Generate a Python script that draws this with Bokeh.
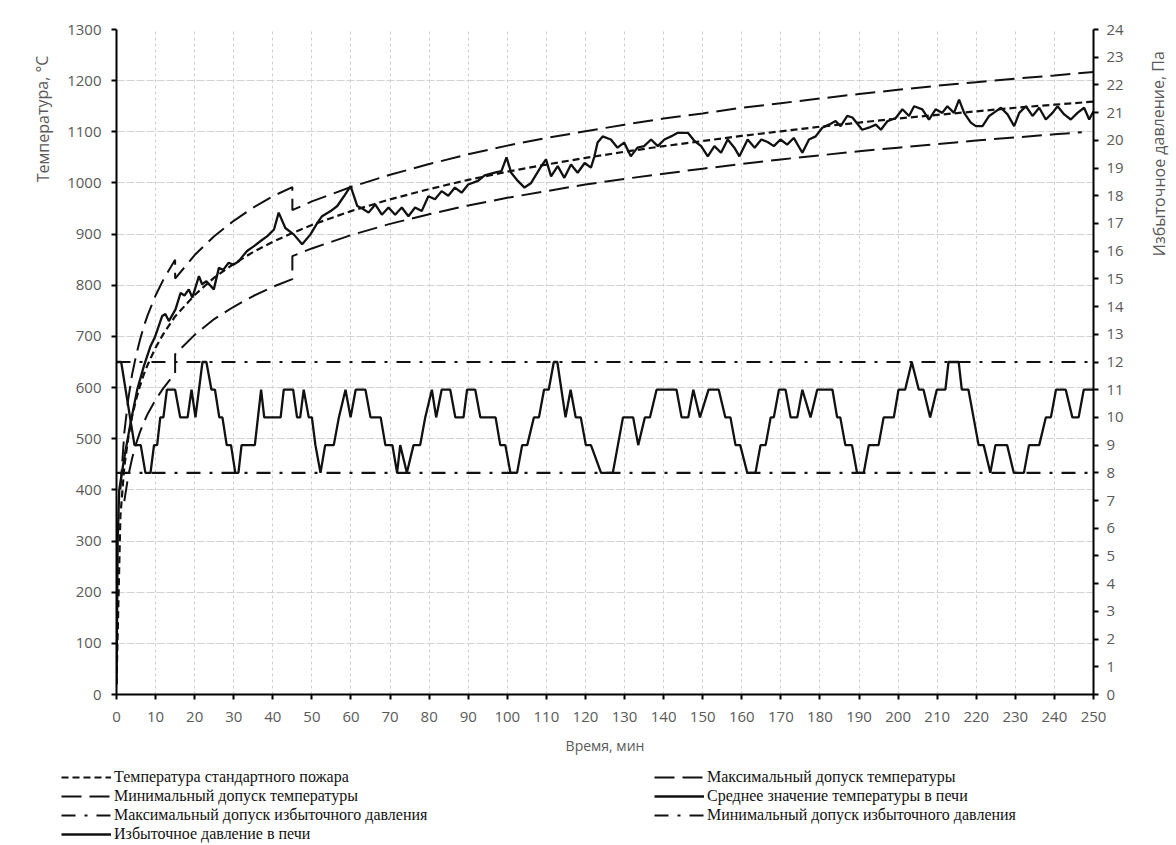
from bokeh.plotting import figure
from bokeh.layouts import column, row
from bokeh.models import Range1d, LinearAxis, Legend, LegendItem, Label, FixedTicker
from bokeh.embed import file_html
from bokeh.resources import INLINE

# ---------------- data ----------------
x_ticks = list(range(0, 251, 10))
temp_ticks = list(range(0, 1301, 100))
pres_ticks = list(range(0, 25))

# standard fire temperature
std_t = [0, 1, 2, 3, 4, 5, 6, 7, 8, 10, 12, 15, 20, 25, 30, 35, 40, 45, 50, 60, 70, 80, 90,
         100, 110, 120, 130, 140, 150, 160, 170, 180, 190, 200, 210, 220, 230, 240, 250]
std_T = [20, 349, 445, 502, 544, 576, 603, 626, 645, 678, 705, 739, 781, 815, 842, 865, 885, 902, 918,
         945, 968, 988, 1006, 1022, 1036, 1049, 1061, 1072, 1082, 1092, 1101, 1110, 1118, 1126, 1133,
         1140, 1147, 1153, 1159]

# maximum temperature tolerance
max_t = [1, 2, 3, 4, 5, 6, 7, 8, 10, 12, 15, 15, 20, 25, 30, 35, 40, 45, 45, 50, 60, 70, 80, 90,
         100, 110, 120, 130, 140, 150, 160, 170, 180, 190, 200, 210, 220, 230, 240, 250]
max_T = [401, 512, 577, 626, 662, 693, 720, 742, 780, 811, 850, 813, 859, 896, 926, 952, 974, 992,
         947, 964, 992, 1016, 1037, 1056, 1073, 1088, 1101, 1114, 1126, 1136, 1147, 1156, 1165, 1174,
         1182, 1190, 1197, 1204, 1210, 1217]

# minimum temperature tolerance
min_t = [2, 3, 4, 5, 6, 7, 8, 10, 12, 15, 15, 20, 25, 30, 35, 40, 45, 45, 50, 60, 70, 80, 90,
         100, 110, 120, 130, 140, 150, 160, 170, 180, 190, 200, 210, 220, 230, 240, 247]
min_T = [378, 427, 462, 490, 513, 532, 549, 576, 599, 628, 665, 703, 734, 758, 779, 797, 812, 857,
         872, 898, 920, 939, 956, 971, 984, 997, 1008, 1018, 1028, 1037, 1046, 1054, 1062, 1069,
         1076, 1083, 1089, 1095, 1099]

# mean furnace temperature
avg_t = [0, 0.3, 0.7, 1.9, 3.6, 5.3, 7, 8.7, 9.9, 11.7, 12.5, 13.4, 15.1, 16.4, 17.4, 18.5, 19.4,
         21.1, 21.9, 23, 24.9, 26.2, 27.3, 28.7, 29.9, 31.3, 32.2, 33.4, 35.1, 36.8, 38.6, 40.3,
         41.5, 43.2, 45.4, 47.5, 49.6, 51.4, 52.6, 54.8, 56.5, 58.2, 59.9, 61.6, 62.9, 64.5, 66.2,
         67.9, 69.6, 71.3, 73, 74.7, 76.4, 78.1, 79.8, 81.5, 83.2, 84.9, 86.6, 88.3, 90, 92.5, 94.2,
         96.8, 98.5, 99.8, 101, 102.7, 104.4, 106.1, 108.7, 109.9, 111.2, 112.9, 114.6, 116.3, 118,
         119.8, 121.4, 122.3, 123.1, 124.4, 126.5, 128.2, 129.9, 131.6, 133.3, 135, 136.8, 138.5,
         140.2, 141.9, 143.6, 146.2, 147.9, 149.6, 151.3, 153, 154.7, 156.4, 158.1, 159.4, 161.5,
         163.3, 165, 166.6, 168.2, 169.9, 171.6, 173.3, 175.5, 177.2, 178.9, 180.6, 182.3, 184,
         185.3, 187, 188.3, 190.8, 192.5, 194.3, 195.6, 197.3, 199.4, 201.1, 202.8, 204.1, 206.2,
         207.9, 209.6, 211.3, 212.6, 214.3, 215.6, 216.9, 218.6, 219.9, 221.6, 223.3, 225, 226.3,
         228, 229.7, 231, 232.7, 234.4, 236.1, 237.8, 239.5, 240.8, 242.5, 244.2, 245.9, 247.6,
         248.9, 250]
avg_T = [20, 300, 400, 459, 531, 596, 642, 681, 700, 740, 744, 730, 753, 785, 780, 792, 776,
         818, 802, 808, 792, 834, 830, 844, 840, 847, 856, 867, 876, 886, 896, 909,
         942, 912, 899, 880, 899, 922, 935, 945, 955, 974, 994, 955, 950, 942, 958,
         938, 952, 938, 952, 935, 952, 945, 974, 968, 984, 975, 991, 981, 997, 1004, 1015,
         1020, 1023, 1050, 1020, 1004, 991, 1000, 1033, 1046, 1013, 1033, 1010, 1036, 1020,
         1039, 1030, 1052, 1079, 1091, 1085, 1069, 1079, 1052, 1069, 1072, 1085, 1072,
         1085, 1091, 1098, 1098, 1082, 1072, 1052, 1072, 1059, 1085, 1069, 1052, 1085,
         1069, 1085, 1080, 1072, 1085, 1075, 1088, 1059, 1085, 1091, 1108, 1114, 1121,
         1111, 1131, 1128, 1104, 1108, 1114, 1104, 1121, 1127, 1144, 1131, 1150, 1144,
         1124, 1144, 1137, 1150, 1137, 1163, 1137, 1118, 1111, 1111, 1131, 1140, 1147,
         1134, 1111, 1137, 1150, 1131, 1147, 1124, 1137, 1150, 1134, 1124, 1137, 1147,
         1124, 1140]

# furnace overpressure, Pa
pr_t = [0, 1.2, 4.6, 6.2, 7.4, 8.7, 9.6, 10.4, 11.2, 12, 12.9, 15, 16.3, 18.2, 19.2, 20.2, 22, 23,
        24.3, 25.2, 26.3, 27.1, 28.2, 29.3, 30.4, 31.2, 32, 35.4, 37, 37.8, 42, 42.8, 45.2, 46.2,
        47, 47.9, 49.2, 50, 50.9, 52.2, 53.4, 55.6, 56.9, 58.6, 59.9, 61.2, 63.7, 65, 67.6, 68.8,
        70.6, 71.8, 72.6, 74.3, 76, 77.7, 79, 80.7, 81.8, 83.2, 85.4, 86.7, 88.8, 89.7, 91.8, 93.1,
        97, 98.2, 99.5, 100.8, 102.5, 103.8, 105.1, 106.8, 108.1, 109.4, 110.6, 111.9, 112.8,
        114.9, 116.2, 117.5, 118.8, 120.1, 121.4, 124, 127, 129.6, 132.2, 133.5, 135.2, 136.5,
        138.2, 143.3, 144.6, 146.3, 147.6, 149.3, 151.5, 154.1, 155.8, 157.1, 158.4, 159.6, 161.4,
        163.5, 164.8, 166.1, 167.4, 168.2, 169.5, 171.2, 172.5, 174.2, 175.5, 177.6, 179.3, 183.2,
        184.4, 185.2, 186.5, 188.2, 189.5, 191.2, 192.5, 195, 196.3, 198.9, 200.1, 201.8, 203.5,
        205.3, 206.5, 208.2, 209.9, 212.1, 212.9, 215.5, 216.3, 218, 219.3, 220.6, 221.9, 223.6,
        224.9, 227.9, 229.6, 232.2, 233.5, 236.1, 237.8, 239.1, 240.4, 242.9, 244.6, 246.2, 247.5,
        250]
pr_P = [12, 12, 9, 9, 8, 8, 9, 9, 10, 10, 11, 11, 10, 10, 11, 10, 12, 12,
        11, 11, 10, 10, 9, 9, 8, 8, 9, 9, 11, 10, 10, 11, 11, 10,
        10, 11, 10, 10, 9, 8, 9, 9, 10, 11, 10, 11, 11, 10, 10, 9,
        9, 8, 9, 8, 9, 9, 10, 11, 10, 11, 11, 10, 10, 11, 11, 10,
        10, 9, 9, 8, 8, 9, 9, 10, 10, 11, 11, 12, 12,
        10, 11, 10, 10, 9, 9, 8, 8, 10, 10, 9, 10, 10,
        11, 11, 10, 10, 11, 10, 11, 11, 10, 10, 9, 9, 8,
        8, 9, 9, 10, 10, 11, 11, 10, 10, 11, 10, 11, 11,
        10, 10, 9, 9, 8, 8, 9, 9, 10, 10, 11, 11, 12,
        11, 11, 10, 11, 11, 12, 12, 11, 11, 10, 9, 9, 8,
        9, 9, 8, 8, 9, 9, 10, 10, 11, 11, 10, 10, 11,
        11]

lim_t = [0, 250]
pmax_P = [12, 12]
pmin_P = [8, 8]

temp_title = "Температура, °С"
pres_title = "Избыточное давление, Па"
time_title = "Время, мин"
legend_labels = [
    "Температура стандартного пожара",
    "Максимальный допуск температуры",
    "Минимальный допуск температуры",
    "Среднее значение температуры в печи",
    "Максимальный допуск избыточного давления",
    "Минимальный допуск избыточного давления",
    "Избыточное давление в печи",
]

# ---------------- styles ----------------
GRAY = "#5a5a5a"
TICKFONT = "Open Sans"
INK = "#111111"
STYLE = {
    "std": dict(line_color=INK, line_width=2.2, line_dash="7 4"),
    "tol": dict(line_color=INK, line_width=2.0, line_dash="20 8"),
    "avg": dict(line_color=INK, line_width=2.3),
    "plim": dict(line_color=INK, line_width=2.2, line_dash="14 9 3 9"),
    "pr": dict(line_color=INK, line_width=2.3),
}

TOP_H = 766

# ---------------- main figure ----------------
p = figure(width=1080, height=TOP_H, output_backend="svg", toolbar_location=None,
           x_range=Range1d(0, 250), y_range=Range1d(0, 1300),
           min_border_left=56, min_border_right=47, min_border_top=29, min_border_bottom=72)
p.extra_y_ranges = {"p": Range1d(0, 24)}
p.outline_line_color = None

p.xaxis.ticker = FixedTicker(ticks=x_ticks)
p.yaxis.ticker = FixedTicker(ticks=temp_ticks)
p.xgrid.ticker = FixedTicker(ticks=x_ticks)
p.ygrid.ticker = FixedTicker(ticks=temp_ticks)
p.xgrid.grid_line_color = "#cfcfcf"
p.xgrid.grid_line_dash = "3 3"
p.ygrid.grid_line_color = "#d2d2d2"
p.ygrid.grid_line_dash = "8 2"

ax_right = LinearAxis(y_range_name="p", ticker=FixedTicker(ticks=pres_ticks))
p.add_layout(ax_right, "right")

for ax in [p.xaxis[0], p.yaxis[0], ax_right]:
    ax.axis_line_color = "black"
    ax.axis_line_width = 2
    ax.major_tick_line_color = "black"
    ax.major_tick_line_width = 2
    ax.major_tick_out = 5
    ax.major_tick_in = 0
    ax.minor_tick_line_color = None
    ax.major_label_text_font = TICKFONT
    ax.major_label_text_font_size = "15px"
    ax.major_label_text_color = GRAY
p.yaxis.major_label_standoff = 10
ax_right.major_label_standoff = 8
p.xaxis.major_label_standoff = 12

p.xaxis.axis_label = time_title
p.xaxis.axis_label_text_font = TICKFONT
p.xaxis.axis_label_text_font_size = "14px"
p.xaxis.axis_label_text_font_style = "normal"
p.xaxis.axis_label_text_color = GRAY
p.xaxis.axis_label_standoff = 11

r_std = p.line(std_t, std_T, **STYLE["std"])
r_max = p.line(max_t, max_T, **STYLE["tol"])
r_min = p.line(min_t, min_T, **STYLE["tol"])
r_avg = p.line(avg_t, avg_T, **STYLE["avg"])
r_pmax = p.line(lim_t, pmax_P, y_range_name="p", **STYLE["plim"])
r_pmin = p.line(lim_t, pmin_P, y_range_name="p", **STYLE["plim"])
r_pr = p.line(pr_t, pr_P, y_range_name="p", **STYLE["pr"])


# ---------------- side strips holding the axis titles ----------------
def strip(width, height):
    f = figure(width=width, height=height, output_backend="svg", toolbar_location=None,
               x_axis_type=None, y_axis_type=None, min_border=0,
               x_range=Range1d(0, width), y_range=Range1d(0, height))
    f.outline_line_color = None
    return f


left_strip = strip(60, TOP_H)
left_strip.add_layout(Label(x=42, y=TOP_H - 103, text=temp_title, angle=1.5708,
                            text_align="center", text_baseline="middle", text_font=TICKFONT,
                            text_font_size="16px", text_color=GRAY))
right_strip = strip(34, TOP_H)
right_strip.add_layout(Label(x=18, y=TOP_H - 143, text=pres_title, angle=1.5708,
                             text_align="center", text_baseline="middle", text_font=TICKFONT,
                             text_font_size="16px", text_color=GRAY))

# ---------------- legend strip ----------------
LEG_H = 77
leg = strip(1174, LEG_H)
nan = [float("nan")]
d_std = leg.line(nan, nan, **STYLE["std"])
d_tol = leg.line(nan, nan, **STYLE["tol"])
d_avg = leg.line(nan, nan, **STYLE["avg"])
d_plim = leg.line(nan, nan, **STYLE["plim"])
d_pr = leg.line(nan, nan, **STYLE["pr"])


def make_legend(items, loc):
    return Legend(items=items, location=loc, orientation="vertical",
                  label_text_font="Liberation Serif", label_text_font_size="16px",
                  label_text_color="#111111", glyph_width=50, glyph_height=16,
                  label_height=16, label_standoff=3, spacing=1, padding=0, margin=0,
                  border_line_color=None, background_fill_alpha=0)


left_items = [LegendItem(label=legend_labels[0], renderers=[d_std]),
              LegendItem(label=legend_labels[2], renderers=[d_tol]),
              LegendItem(label=legend_labels[4], renderers=[d_plim]),
              LegendItem(label=legend_labels[6], renderers=[d_pr])]
right_items = [LegendItem(label=legend_labels[1], renderers=[d_tol]),
               LegendItem(label=legend_labels[3], renderers=[d_avg]),
               LegendItem(label=legend_labels[5], renderers=[d_plim])]

leg.add_layout(make_legend(left_items, (61, 0)), "center")
leg.add_layout(make_legend(right_items, (654, 19)), "center")

layout = column(row(left_strip, p, right_strip), leg)
open("out.html", "w").write(file_html(layout, INLINE))
